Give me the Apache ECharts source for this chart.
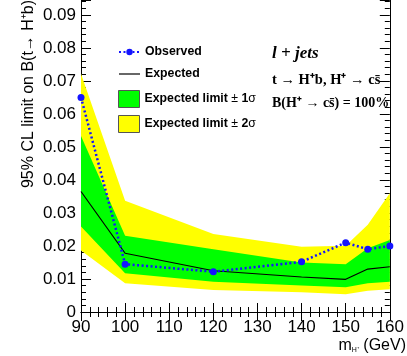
<!DOCTYPE html>
<html>
<head>
<meta charset="utf-8">
<script src="https://cdn.jsdelivr.net/npm/echarts@6/dist/echarts.min.js"></script>
<style>
    html, body { margin: 0; padding: 0; background: #fff; }
    #chart { width: 407px; height: 356px; }
</style>
</head>
<body>
<div id="chart"></div>
<script>
    // charged Higgs mass points (GeV)
    var masses = [90, 100, 120, 140, 150, 155, 160];
    var observed = [0.0650, 0.0145, 0.0122, 0.0152, 0.0210, 0.0190, 0.0200];
    var expected = [0.0365, 0.0178, 0.0125, 0.0106, 0.0099, 0.0130, 0.0137];
    var oneSigmaLow = [0.0259, 0.0117, 0.0092, 0.0080, 0.0075, 0.0087, 0.0092];
    var oneSigmaHigh = [0.0533, 0.0231, 0.0190, 0.0150, 0.0145, 0.0193, 0.0218];
    var twoSigmaLow = [0.0186, 0.0087, 0.0067, 0.0060, 0.0054, 0.0064, 0.0069];
    var twoSigmaHigh = [0.0722, 0.0337, 0.0236, 0.0198, 0.0201, 0.0264, 0.0360];
    var yTicks = ['0', '0.01', '0.02', '0.03', '0.04', '0.05', '0.06', '0.07', '0.08', '0.09'];

    function pairs(ys) {
        return masses.map(function (m, i) { return [m, ys[i]]; });
    }
    function bandData(lo, hi) {
        return masses.map(function (m, i) { return [m, lo[i], hi[i]]; });
    }
    // one polygon per band, along the upper edge and back along the lower one
    function bandRenderer(color) {
        return function (params, api) {
            if (params.dataIndex !== 0) return null;
            var up = [], down = [];
            for (var i = 0; i < masses.length; i++) {
                up.push(api.coord([api.value(0, i), api.value(2, i)]));
                down.unshift(api.coord([api.value(0, i), api.value(1, i)]));
            }
            return {
                type: 'polygon',
                shape: { points: up.concat(down) },
                style: { fill: color, stroke: null }
            };
        };
    }

    var font = 'Liberation Sans';
    var serif = 'Liberation Serif';

    var tickX = {
        min: 90, max: 160, interval: 10,
        axisLine: { show: true, lineStyle: { color: '#000', width: 1 } },
        axisTick: { show: true, inside: true, length: 9, lineStyle: { color: '#000' } },
        minorTick: { show: true, splitNumber: 5, length: 5, lineStyle: { color: '#000' } },
        splitLine: { show: false }
    };
    var tickY = {
        min: 0, max: 0.0945, interval: 0.01,
        axisLine: { show: true, lineStyle: { color: '#000', width: 1 } },
        axisTick: { show: true, inside: true, length: 10, lineStyle: { color: '#000' } },
        minorTick: { show: true, splitNumber: 5, length: 5, lineStyle: { color: '#000' } },
        splitLine: { show: false }
    };

    var option = {
        animation: false,
        backgroundColor: '#fff',
        grid: { left: 81, right: 5, top: 0, bottom: 44 },
        xAxis: [
            Object.assign({}, tickX, {
                type: 'value', position: 'bottom',
                axisLabel: { color: '#000', fontFamily: font, fontSize: 17, margin: 7 }
            }),
            Object.assign({}, tickX, {
                type: 'value', position: 'top',
                axisLabel: { show: false }
            })
        ],
        yAxis: [
            Object.assign({}, tickY, {
                type: 'value', position: 'left',
                axisLabel: {
                    color: '#000', fontFamily: font, fontSize: 17, margin: 5,
                    formatter: function (v) {
                        var k = Math.round(v * 100);
                        if (Math.abs(v * 100 - k) > 1e-6) return '';
                        return yTicks[k] || '';
                    }
                }
            }),
            Object.assign({}, tickY, {
                type: 'value', position: 'right',
                axisLabel: { show: false }
            })
        ],
        legend: [
            {
                data: [
                    'Observed',
                    { name: 'Expected', icon: 'path://M0,0L21,0L21,1.2L0,1.2Z', itemStyle: { color: '#000' } }
                ],
                orient: 'vertical',
                left: 113, top: 41,
                itemWidth: 21, itemHeight: 8, itemGap: 10,
                selectedMode: false,
                textStyle: { fontFamily: font, fontSize: 12.3, fontWeight: 'bold', color: '#000' }
            },
            {
                data: [
                    { name: 'Expected limit ± 1σ', icon: 'rect',
                      itemStyle: { color: '#00ff00', borderColor: '#555', borderWidth: 1 } },
                    { name: 'Expected limit ± 2σ', icon: 'rect',
                      itemStyle: { color: '#ffff00', borderColor: '#555', borderWidth: 1 } }
                ],
                orient: 'vertical',
                left: 113, top: 85,
                itemWidth: 21, itemHeight: 17, itemGap: 7,
                selectedMode: false,
                formatter: function (name) {
                    var n = name.slice(-2, -1);
                    return '{b|Expected limit} {n|±} {b|' + n + '}{n|σ}';
                },
                textStyle: {
                    fontFamily: font, fontSize: 12.3, color: '#000',
                    rich: {
                        b: { fontFamily: font, fontSize: 12.3, fontWeight: 'bold', color: '#000' },
                        n: { fontFamily: font, fontSize: 12.3, fontWeight: 'normal', color: '#000' }
                    }
                }
            }
        ],
        graphic: [
            {
                type: 'text', x: 29, y: 94, rotation: Math.PI / 2,
                style: {
                    text: '95% CL limit on B(t\u2192 H\u207Ab)',
                    fontFamily: font, fontSize: 16, fill: '#000',
                    align: 'center', verticalAlign: 'middle'
                }
            },
            {
                type: 'text', x: 406, y: 346,
                style: {
                    text: '{a|m}{s|H\u207A}{a| (GeV)}',
                    align: 'right', verticalAlign: 'middle',
                    rich: {
                        a: { fontFamily: font, fontSize: 16, fill: '#000' },
                        s: { fontFamily: font, fontSize: 7, fill: '#000', verticalAlign: 'bottom', padding: [6, 0, 0, 0] }
                    }
                }
            },
            {
                type: 'text', x: 272, y: 54,
                style: {
                    text: 'l + jets',
                    fontFamily: serif, fontSize: 17, fontWeight: 'bold', fontStyle: 'italic',
                    fill: '#000', verticalAlign: 'middle'
                }
            },
            {
                type: 'text', x: 272, y: 80,
                style: {
                    text: 't \u2192 H\u207Ab, H\u207A \u2192 cs\u0304',
                    fontFamily: serif, fontSize: 14.5, fontWeight: 'bold',
                    fill: '#000', verticalAlign: 'middle'
                }
            },
            {
                type: 'text', x: 272, y: 103,
                style: {
                    text: 'B(H\u207A \u2192 cs\u0304) = 100%',
                    fontFamily: serif, fontSize: 14, fontWeight: 'bold',
                    fill: '#000', verticalAlign: 'middle'
                }
            }
        ],
        series: [
            {
                name: 'Expected limit ± 2σ', type: 'custom',
                data: bandData(twoSigmaLow, twoSigmaHigh),
                encode: { x: 0, y: [1, 2] },
                itemStyle: { color: '#ffff00' },
                renderItem: bandRenderer('#ffff00'),
                clip: true, silent: true
            },
            {
                name: 'Expected limit ± 1σ', type: 'custom',
                data: bandData(oneSigmaLow, oneSigmaHigh),
                encode: { x: 0, y: [1, 2] },
                itemStyle: { color: '#00ff00' },
                renderItem: bandRenderer('#00ff00'),
                clip: true, silent: true
            },
            {
                name: 'Expected', type: 'line', data: pairs(expected),
                symbol: 'none',
                itemStyle: { color: '#000' },
                lineStyle: { color: '#000', width: 1.2 }
            },
            {
                name: 'Observed', type: 'line', data: pairs(observed),
                symbol: 'circle', symbolSize: 7,
                itemStyle: { color: '#1414ff' },
                lineStyle: { color: '#1414ff', width: 2.5, type: [2, 2.5] },
                clip: false
            }
        ]
    };

    var chart = echarts.init(document.getElementById('chart'));
    chart.setOption(option);
</script>
</body>
</html>
